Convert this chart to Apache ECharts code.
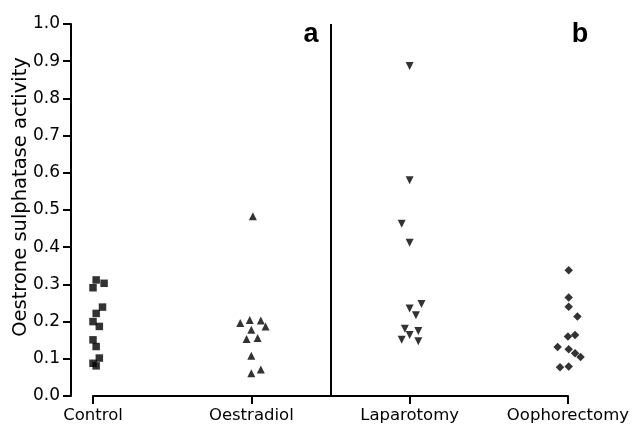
<!DOCTYPE html>
<html>
<head>
<meta charset="utf-8">
<script src="https://cdn.jsdelivr.net/npm/echarts@6/dist/echarts.min.js"></script>
<style>
  html, body { margin: 0; padding: 0; background: #fff; }
  #chart { width: 632px; height: 426px; }
</style>
</head>
<body>
<div id="chart"></div>
<script>
// groups along the x axis
const categories = ["Control", "Oestradiol", "Laparotomy", "Oophorectomy"];
const yTicks = [0, 0.1, 0.2, 0.3, 0.4, 0.5, 0.6, 0.7, 0.8, 0.9, 1.0];

// activity values per group, with the small sideways jitter of each point (in category units)
const controlY = [0.312, 0.303, 0.291, 0.239, 0.222, 0.200, 0.187, 0.151, 0.133, 0.102, 0.088, 0.081];
const controlJit = [0.02, 0.07, 0.0, 0.06, 0.02, 0.0, 0.04, 0.0, 0.02, 0.04, 0.0, 0.02];

const oestradiolY = [0.483, 0.196, 0.204, 0.203, 0.178, 0.187, 0.153, 0.156, 0.108, 0.061, 0.071];
const oestradiolJit = [0.01, -0.07, -0.01, 0.06, 0.0, 0.09, -0.03, 0.04, 0.0, 0.0, 0.06];

const laparotomyY = [0.887, 0.580, 0.463, 0.412, 0.247, 0.235, 0.217, 0.181, 0.175, 0.164, 0.151, 0.147];
const laparotomyJit = [0.0, 0.0, -0.05, 0.0, 0.075, 0.0, 0.04, -0.03, 0.055, 0.0, -0.05, 0.055];

const oophorectomyY = [0.338, 0.265, 0.240, 0.214, 0.160, 0.164, 0.132, 0.126, 0.115, 0.105, 0.077, 0.079];
const oophorectomyJit = [0.005, 0.005, 0.005, 0.06, 0.0, 0.045, -0.065, 0.005, 0.045, 0.08, -0.05, 0.005];

// where the two panels split (between Oestradiol and Laparotomy)
const panelSplit = 1.5;

function toPoints(idx, ys, jit) {
  return ys.map((y, i) => [idx + jit[i], y]);
}

const font = "DejaVu Sans";

var chart = echarts.init(document.getElementById("chart"), null, { renderer: "canvas" });

var option = {
  animation: false,
  backgroundColor: "#fff",
  grid: { left: 93, right: 59, top: 24, bottom: 30, containLabel: false },
  xAxis: {
    type: "value",
    min: 0,
    max: 3,
    interval: 1,
    splitLine: { show: false },
    axisLine: { show: true, onZero: false, lineStyle: { color: "#000", width: 2 } },
    axisTick: { show: true, inside: false, length: 8, lineStyle: { color: "#000", width: 2 } },
    axisLabel: {
      color: "#000",
      fontFamily: font,
      fontSize: 16.5,
      margin: 11,
      formatter: (v) => categories[Math.round(v)] || "",
    },
  },
  yAxis: {
    type: "value",
    min: yTicks[0],
    max: yTicks[yTicks.length - 1],
    interval: 0.1,
    offset: 22,
    splitLine: { show: false },
    axisLine: { show: true, onZero: false, lineStyle: { color: "#000", width: 2 } },
    axisTick: { show: true, length: 8, lineStyle: { color: "#000", width: 2 } },
    axisLabel: {
      color: "#000",
      fontFamily: font,
      fontSize: 17,
      margin: 11,
      formatter: (v) => v.toFixed(1),
    },
  },
  graphic: [
    {
      type: "text",
      x: 21,
      y: 197,
      rotation: Math.PI / 2,
      style: {
        text: "Oestrone sulphatase activity",
        fill: "#000",
        font: "19.5px " + font,
        textAlign: "center",
        textVerticalAlign: "middle",
      },
    },
    {
      type: "text",
      x: 311,
      y: 35,
      style: { text: "a", fill: "#000", font: "bold 27px Liberation Sans", textAlign: "center", textVerticalAlign: "middle" },
    },
    {
      type: "text",
      x: 580,
      y: 35,
      style: { text: "b", fill: "#000", font: "bold 27px Liberation Sans", textAlign: "center", textVerticalAlign: "middle" },
    },
  ],
  series: [
    {
      name: "Control",
      type: "scatter",
      clip: false,
      symbol: "rect",
      symbolSize: 7.5,
      itemStyle: { color: "#000" },
      data: toPoints(0, controlY, controlJit),
      markLine: {
        silent: true,
        symbol: "none",
        label: { show: false },
        lineStyle: { color: "#000", width: 2, type: "solid" },
        data: [{ xAxis: panelSplit }],
      },
    },
    {
      name: "Oestradiol",
      type: "scatter",
      clip: false,
      symbol: "triangle",
      symbolSize: 8,
      itemStyle: { color: "#000" },
      data: toPoints(1, oestradiolY, oestradiolJit),
    },
    {
      name: "Laparotomy",
      type: "scatter",
      clip: false,
      symbol: "triangle",
      symbolRotate: 180,
      symbolSize: 8,
      itemStyle: { color: "#000" },
      data: toPoints(2, laparotomyY, laparotomyJit),
    },
    {
      name: "Oophorectomy",
      type: "scatter",
      clip: false,
      symbol: "diamond",
      symbolSize: 8.5,
      itemStyle: { color: "#000" },
      data: toPoints(3, oophorectomyY, oophorectomyJit),
    },
  ],
};

chart.setOption(option);
</script>
</body>
</html>
